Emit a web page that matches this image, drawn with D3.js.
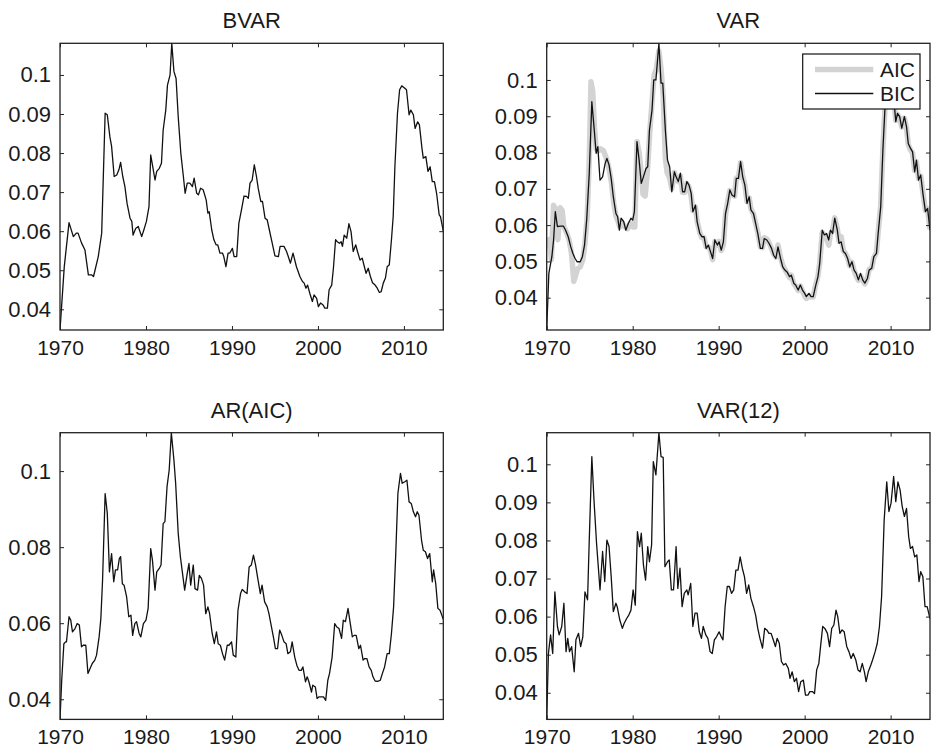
<!DOCTYPE html>
<html>
<head>
<meta charset="utf-8">
<script src="https://cdn.jsdelivr.net/npm/d3@7"></script>
<style>
  body { margin: 0; background: #fff; }
  svg { display: block; }
  text { font-family: "Liberation Sans", Arial, Helvetica, sans-serif; fill: #1a1a1a; }
</style>
</head>
<body>
<div id="chart"></div>
<script>
// panel titles and legend labels
const titles = ['BVAR', 'VAR', 'AR(AIC)', 'VAR(12)']
const legendLabels = ['AIC', 'BIC']

// tick values
const xTicks = [1970, 1980, 1990, 2000, 2010]
const yTicksFine = [0.04, 0.05, 0.06, 0.07, 0.08, 0.09, 0.1]
const yTicksCoarse = [0.04, 0.06, 0.08, 0.1]
const xStart = 1970
const xEnd = 2014.58

// series, [year, value]
const bvar = [[1970.0,0.0347],[1970.5,0.051],[1971.05,0.0622],[1971.55,0.0586],[1971.9,0.0595],[1972.1,0.0595],[1972.5,0.057],[1972.9,0.0552],[1973.3,0.0488],[1973.7,0.0488],[1973.9,0.0484],[1974.45,0.0535],[1974.85,0.0595],[1975.25,0.0902],[1975.5,0.0898],[1975.8,0.0842],[1976.0,0.0817],[1976.3,0.074],[1976.6,0.0744],[1976.85,0.0757],[1977.05,0.0776],[1977.3,0.074],[1977.55,0.0714],[1977.8,0.0671],[1978.15,0.0633],[1978.35,0.0625],[1978.5,0.059],[1978.8,0.0607],[1979.1,0.0612],[1979.5,0.0586],[1979.75,0.0603],[1980.05,0.0625],[1980.35,0.0663],[1980.55,0.0795],[1980.75,0.077],[1981.05,0.0731],[1981.25,0.0753],[1981.55,0.0761],[1981.8,0.0774],[1982.0,0.0859],[1982.3,0.091],[1982.5,0.0974],[1982.8,0.1],[1983.0,0.1081],[1983.25,0.1009],[1983.5,0.0991],[1983.75,0.0893],[1984.05,0.08],[1984.35,0.074],[1984.55,0.0697],[1984.8,0.0723],[1985.1,0.0723],[1985.4,0.0714],[1985.6,0.0736],[1985.9,0.0697],[1986.1,0.0693],[1986.35,0.071],[1986.65,0.0706],[1987.0,0.068],[1987.2,0.0646],[1987.35,0.065],[1987.65,0.0603],[1987.9,0.0578],[1988.15,0.0565],[1988.35,0.0565],[1988.6,0.0544],[1988.9,0.0544],[1989.05,0.0535],[1989.3,0.0509],[1989.55,0.0544],[1989.75,0.0544],[1990.05,0.0556],[1990.25,0.0535],[1990.55,0.0535],[1990.8,0.062],[1991.1,0.0654],[1991.4,0.069],[1991.7,0.0689],[1991.9,0.0684],[1992.1,0.0723],[1992.35,0.0731],[1992.6,0.077],[1992.85,0.074],[1993.05,0.071],[1993.35,0.0676],[1993.55,0.0676],[1993.85,0.0633],[1994.1,0.0629],[1994.35,0.0603],[1994.6,0.0578],[1995.0,0.0537],[1995.4,0.0535],[1995.6,0.0561],[1996.05,0.0561],[1996.35,0.0548],[1996.55,0.0535],[1996.8,0.0518],[1997.1,0.0544],[1997.5,0.0509],[1997.9,0.0484],[1998.2,0.0471],[1998.4,0.0467],[1998.6,0.0454],[1998.8,0.0462],[1999.05,0.0441],[1999.35,0.042],[1999.55,0.0437],[1999.85,0.0428],[2000.05,0.0407],[2000.3,0.0416],[2000.6,0.0411],[2000.8,0.0403],[2001.1,0.0403],[2001.3,0.045],[2001.6,0.0462],[2001.8,0.0505],[2002.05,0.0578],[2002.25,0.0573],[2002.5,0.0569],[2002.7,0.0573],[2002.85,0.0561],[2003.05,0.059],[2003.35,0.0582],[2003.6,0.0619],[2003.85,0.0599],[2004.1,0.0548],[2004.4,0.0565],[2004.6,0.0548],[2004.9,0.0526],[2005.15,0.0531],[2005.4,0.0509],[2005.6,0.0492],[2005.85,0.0505],[2006.1,0.0484],[2006.35,0.0468],[2006.65,0.0462],[2006.9,0.0454],[2007.15,0.0443],[2007.35,0.0445],[2007.6,0.0467],[2007.85,0.048],[2008.05,0.0509],[2008.3,0.0514],[2008.55,0.0578],[2008.75,0.0637],[2008.95,0.0765],[2009.25,0.0902],[2009.5,0.0962],[2009.75,0.0972],[2010.0,0.0968],[2010.3,0.0962],[2010.6,0.0898],[2010.8,0.091],[2011.1,0.0898],[2011.3,0.0863],[2011.6,0.088],[2011.8,0.0872],[2012.1,0.0812],[2012.25,0.0787],[2012.55,0.0791],[2012.8,0.0753],[2013.05,0.0765],[2013.3,0.0727],[2013.55,0.0727],[2013.8,0.0697],[2014.1,0.0642],[2014.25,0.0637],[2014.58,0.06]]

const varBic = [[1970.0,0.0311],[1970.25,0.0467],[1970.6,0.0513],[1970.8,0.0559],[1971.0,0.0637],[1971.25,0.0596],[1971.55,0.0597],[1971.95,0.0597],[1972.2,0.0586],[1972.5,0.0568],[1972.8,0.054],[1973.05,0.0522],[1973.3,0.0508],[1973.55,0.0499],[1973.9,0.0499],[1974.15,0.0513],[1974.4,0.0545],[1974.65,0.0614],[1974.95,0.0743],[1975.25,0.094],[1975.5,0.0871],[1975.75,0.0798],[1975.95,0.0816],[1976.2,0.0724],[1976.5,0.0733],[1976.8,0.077],[1977.0,0.0784],[1977.25,0.0766],[1977.5,0.0729],[1977.75,0.0678],[1978.05,0.0632],[1978.25,0.0623],[1978.45,0.0586],[1978.65,0.0619],[1978.95,0.061],[1979.2,0.0586],[1979.5,0.0605],[1979.8,0.0619],[1980.0,0.0614],[1980.2,0.0637],[1980.5,0.083],[1980.75,0.0779],[1981.0,0.0715],[1981.25,0.0733],[1981.55,0.0756],[1981.75,0.0761],[1981.95,0.0862],[1982.25,0.0917],[1982.45,0.1],[1982.7,0.1],[1982.8,0.1028],[1983.05,0.1101],[1983.3,0.0991],[1983.5,0.0991],[1983.8,0.0862],[1984.05,0.0779],[1984.3,0.0761],[1984.55,0.0692],[1984.85,0.0747],[1985.05,0.0733],[1985.3,0.072],[1985.55,0.0743],[1985.8,0.0692],[1986.05,0.0692],[1986.3,0.072],[1986.55,0.071],[1986.8,0.0688],[1987.0,0.0637],[1987.3,0.0655],[1987.5,0.0609],[1987.8,0.0577],[1988.05,0.0568],[1988.3,0.0568],[1988.55,0.0536],[1988.8,0.0545],[1989.05,0.0527],[1989.3,0.0508],[1989.55,0.0559],[1989.85,0.0545],[1990.05,0.0554],[1990.3,0.0531],[1990.55,0.0554],[1990.8,0.0632],[1991.05,0.066],[1991.3,0.0697],[1991.55,0.0683],[1991.85,0.0678],[1992.05,0.0729],[1992.3,0.0729],[1992.55,0.0775],[1992.8,0.0733],[1993.05,0.071],[1993.3,0.066],[1993.55,0.0678],[1993.75,0.0642],[1994.05,0.0632],[1994.3,0.0605],[1994.55,0.0577],[1994.85,0.0536],[1995.1,0.0536],[1995.3,0.0563],[1995.6,0.0559],[1995.85,0.055],[1996.15,0.0536],[1996.4,0.0517],[1996.65,0.0508],[1996.9,0.054],[1997.2,0.0508],[1997.45,0.0485],[1997.7,0.0476],[1997.95,0.0471],[1998.25,0.0458],[1998.45,0.0462],[1998.75,0.0439],[1998.95,0.0435],[1999.25,0.0421],[1999.5,0.0435],[1999.75,0.0421],[2000.0,0.0412],[2000.2,0.0403],[2000.5,0.0412],[2000.75,0.0403],[2001.0,0.0403],[2001.25,0.043],[2001.55,0.0458],[2001.75,0.0494],[2002.05,0.0586],[2002.3,0.0573],[2002.55,0.0577],[2002.8,0.0559],[2003.0,0.0586],[2003.25,0.0577],[2003.5,0.0619],[2003.8,0.0586],[2004.0,0.055],[2004.25,0.0554],[2004.5,0.0527],[2004.75,0.0522],[2005.0,0.0508],[2005.25,0.0485],[2005.5,0.0499],[2005.75,0.0476],[2006.0,0.0467],[2006.25,0.0449],[2006.5,0.0467],[2006.75,0.0449],[2007.0,0.044],[2007.3,0.0453],[2007.5,0.0476],[2007.8,0.0481],[2008.05,0.0513],[2008.35,0.0522],[2008.55,0.0577],[2008.85,0.0651],[2009.1,0.0807],[2009.35,0.0926],[2009.6,0.0975],[2009.9,0.0985],[2010.1,0.0975],[2010.4,0.094],[2010.6,0.0885],[2010.8,0.0908],[2011.05,0.0899],[2011.3,0.0867],[2011.6,0.0899],[2011.85,0.0871],[2012.05,0.0825],[2012.3,0.0812],[2012.55,0.0802],[2012.8,0.0747],[2013.0,0.0779],[2013.25,0.0724],[2013.5,0.0738],[2013.75,0.0688],[2014.05,0.0637],[2014.3,0.0646],[2014.58,0.0586]]

const varAic = [[1970.0,0.054],[1970.3,0.056],[1970.55,0.0505],[1970.8,0.0655],[1971.05,0.064],[1971.3,0.056],[1971.55,0.0648],[1971.8,0.064],[1972.0,0.0595],[1972.3,0.058],[1972.6,0.056],[1972.9,0.052],[1973.15,0.0445],[1973.35,0.046],[1973.6,0.048],[1973.9,0.0485],[1974.2,0.0505],[1974.45,0.055],[1974.7,0.062],[1974.95,0.078],[1975.15,0.0995],[1975.35,0.097],[1975.55,0.087],[1975.75,0.081],[1976.0,0.0805],[1976.3,0.081],[1976.6,0.0805],[1976.85,0.079],[1977.05,0.0775],[1977.3,0.075],[1977.55,0.0715],[1977.8,0.066],[1978.05,0.0625],[1978.3,0.061],[1978.5,0.0595],[1978.8,0.0605],[1979.1,0.0595],[1979.4,0.059],[1979.7,0.0605],[1980.0,0.0595],[1980.25,0.0595],[1980.5,0.083],[1980.75,0.08],[1981.0,0.0745],[1981.2,0.0685],[1981.45,0.068],[1981.7,0.0745],[1982.0,0.086],[1982.3,0.0955],[1982.5,0.1015],[1982.75,0.103],[1983.05,0.108],[1983.3,0.103],[1983.55,0.0955],[1983.8,0.0785],[1984.0,0.0745],[1984.3,0.073],[1984.55,0.07],[1984.85,0.0745],[1985.1,0.0725],[1985.3,0.072],[1985.55,0.0735],[1985.8,0.069],[1986.05,0.069],[1986.3,0.0715],[1986.55,0.0705],[1986.8,0.068],[1987.0,0.064],[1987.3,0.065],[1987.5,0.061],[1987.8,0.058],[1988.05,0.0565],[1988.3,0.0565],[1988.55,0.054],[1988.8,0.054],[1989.05,0.053],[1989.3,0.0505],[1989.55,0.0555],[1989.85,0.0545],[1990.05,0.0555],[1990.3,0.053],[1990.55,0.0545],[1990.8,0.063],[1991.05,0.0665],[1991.3,0.0695],[1991.55,0.0685],[1991.85,0.068],[1992.05,0.073],[1992.3,0.073],[1992.55,0.0772],[1992.8,0.0735],[1993.05,0.071],[1993.3,0.0665],[1993.55,0.0675],[1993.75,0.0645],[1994.05,0.063],[1994.3,0.0605],[1994.55,0.058],[1994.85,0.054],[1995.1,0.0538],[1995.3,0.0565],[1995.6,0.0562],[1995.85,0.0552],[1996.15,0.0535],[1996.4,0.052],[1996.65,0.0512],[1996.9,0.0545],[1997.2,0.051],[1997.45,0.049],[1997.7,0.0478],[1997.95,0.0468],[1998.25,0.0455],[1998.45,0.0462],[1998.75,0.0438],[1998.95,0.0432],[1999.25,0.042],[1999.5,0.0432],[1999.75,0.0418],[2000.0,0.0405],[2000.2,0.0398],[2000.5,0.0405],[2000.75,0.0402],[2001.0,0.0402],[2001.25,0.0432],[2001.55,0.046],[2001.75,0.0495],[2002.05,0.058],[2002.3,0.0572],[2002.55,0.0565],[2002.8,0.0545],[2003.0,0.0575],[2003.25,0.0585],[2003.5,0.062],[2003.8,0.059],[2004.0,0.0555],[2004.25,0.0568],[2004.5,0.053],[2004.75,0.0522],[2005.0,0.051],[2005.25,0.0488],[2005.5,0.0498],[2005.75,0.0475],[2006.0,0.046],[2006.25,0.0448],[2006.5,0.046],[2006.75,0.0448],[2007.0,0.0438],[2007.3,0.0455],[2007.5,0.0478],[2007.8,0.0482],[2008.05,0.051],[2008.35,0.0525],[2008.55,0.058],[2008.85,0.0655],[2009.1,0.081],[2009.35,0.0926],[2009.6,0.0975],[2009.9,0.0985],[2010.1,0.0975],[2010.4,0.094],[2010.6,0.0888],[2010.8,0.0905],[2011.05,0.0895],[2011.3,0.087],[2011.6,0.0895],[2011.85,0.0868],[2012.05,0.0822],[2012.3,0.0808],[2012.55,0.0798],[2012.8,0.075],[2013.0,0.0775],[2013.25,0.0728],[2013.5,0.0735],[2013.75,0.069],[2014.05,0.064],[2014.3,0.0645],[2014.58,0.0588]]

const arAic = [[1970.0,0.0347],[1970.2,0.045],[1970.45,0.0546],[1970.65,0.0551],[1970.75,0.0551],[1971.05,0.0617],[1971.25,0.0608],[1971.45,0.0577],[1971.75,0.0586],[1972.0,0.0599],[1972.25,0.0595],[1972.5,0.0538],[1972.7,0.0542],[1973.0,0.0542],[1973.25,0.0468],[1973.5,0.0481],[1973.75,0.0494],[1974.05,0.0503],[1974.25,0.0516],[1974.55,0.0564],[1974.75,0.0612],[1974.95,0.0713],[1975.25,0.0941],[1975.5,0.0889],[1975.75,0.0735],[1976.0,0.0783],[1976.25,0.0709],[1976.45,0.074],[1976.7,0.074],[1976.9,0.077],[1977.05,0.0775],[1977.25,0.0704],[1977.45,0.07],[1977.75,0.0669],[1978.0,0.0617],[1978.25,0.0621],[1978.45,0.0568],[1978.7,0.0599],[1978.9,0.0604],[1979.2,0.0573],[1979.4,0.0564],[1979.7,0.0599],[1980.0,0.0608],[1980.25,0.0639],[1980.55,0.0796],[1980.75,0.0766],[1981.05,0.0687],[1981.25,0.0735],[1981.55,0.0744],[1981.75,0.0753],[1982.0,0.0862],[1982.2,0.0867],[1982.45,0.0959],[1982.7,0.1003],[1982.95,0.1101],[1983.25,0.1029],[1983.45,0.0968],[1983.75,0.0836],[1984.0,0.0775],[1984.25,0.0731],[1984.5,0.0687],[1984.8,0.0731],[1985.0,0.0757],[1985.2,0.07],[1985.5,0.0753],[1985.7,0.0691],[1986.0,0.0687],[1986.2,0.0726],[1986.45,0.0718],[1986.7,0.07],[1986.95,0.0625],[1987.2,0.0643],[1987.4,0.0625],[1987.7,0.0573],[1987.95,0.0546],[1988.2,0.0577],[1988.4,0.0546],[1988.65,0.0542],[1988.9,0.052],[1989.15,0.0503],[1989.45,0.0542],[1989.65,0.0542],[1989.95,0.0551],[1990.15,0.0516],[1990.45,0.0511],[1990.7,0.0634],[1991.0,0.0678],[1991.2,0.0689],[1991.5,0.0682],[1991.75,0.0678],[1992.0,0.0748],[1992.25,0.0753],[1992.5,0.0779],[1992.75,0.0753],[1993.0,0.0718],[1993.3,0.0678],[1993.5,0.07],[1993.8,0.0656],[1994.1,0.0643],[1994.3,0.0625],[1994.6,0.059],[1994.85,0.056],[1995.05,0.0533],[1995.3,0.0533],[1995.55,0.0582],[1995.8,0.0568],[1996.05,0.0551],[1996.3,0.0546],[1996.5,0.052],[1996.8,0.0525],[1997.0,0.0551],[1997.3,0.0511],[1997.55,0.0489],[1997.8,0.0476],[1998.05,0.0476],[1998.25,0.0485],[1998.55,0.0446],[1998.75,0.0459],[1998.95,0.0446],[1999.25,0.0419],[1999.4,0.0437],[1999.7,0.0432],[1999.9,0.0402],[2000.1,0.0406],[2000.4,0.0406],[2000.65,0.0406],[2000.9,0.0397],[2001.15,0.045],[2001.35,0.0468],[2001.65,0.0511],[2001.95,0.0599],[2002.2,0.059],[2002.45,0.0586],[2002.75,0.056],[2002.95,0.0608],[2003.2,0.0604],[2003.5,0.0639],[2003.7,0.0608],[2004.0,0.0564],[2004.2,0.0568],[2004.45,0.0568],[2004.75,0.0533],[2004.95,0.0542],[2005.25,0.0503],[2005.45,0.0507],[2005.7,0.0507],[2005.95,0.0485],[2006.2,0.0476],[2006.4,0.0459],[2006.65,0.0448],[2006.95,0.0447],[2007.25,0.045],[2007.5,0.0468],[2007.75,0.0485],[2008.05,0.052],[2008.3,0.052],[2008.55,0.0573],[2008.8,0.0643],[2009.05,0.0783],[2009.3,0.0941],[2009.6,0.0994],[2009.8,0.0968],[2010.1,0.0972],[2010.35,0.0976],[2010.6,0.0919],[2010.85,0.0915],[2011.1,0.0893],[2011.35,0.088],[2011.55,0.0893],[2011.75,0.0884],[2012.05,0.0818],[2012.25,0.0792],[2012.5,0.0788],[2012.75,0.077],[2013.0,0.0783],[2013.3,0.0709],[2013.45,0.074],[2013.7,0.0704],[2013.95,0.0639],[2014.2,0.0634],[2014.58,0.061]]

const var12 = [[1970.0,0.033],[1970.2,0.0503],[1970.45,0.0552],[1970.7,0.0503],[1970.95,0.0665],[1971.25,0.0574],[1971.45,0.0552],[1971.75,0.0574],[1972.0,0.0635],[1972.25,0.0508],[1972.45,0.0543],[1972.65,0.0508],[1972.9,0.0521],[1973.2,0.0455],[1973.4,0.0539],[1973.7,0.0556],[1973.95,0.0521],[1974.2,0.0547],[1974.45,0.0665],[1974.75,0.0644],[1974.95,0.0801],[1975.25,0.102],[1975.5,0.0906],[1975.8,0.0792],[1976.2,0.067],[1976.5,0.0771],[1976.75,0.0692],[1977.0,0.0801],[1977.25,0.0784],[1977.5,0.0705],[1977.75,0.0613],[1978.05,0.0635],[1978.2,0.0626],[1978.5,0.0591],[1978.8,0.0569],[1979.0,0.0582],[1979.3,0.0595],[1979.55,0.0604],[1979.8,0.0617],[1980.05,0.067],[1980.3,0.063],[1980.55,0.0823],[1980.8,0.0784],[1981.0,0.0819],[1981.25,0.0736],[1981.5,0.0696],[1981.75,0.0784],[1981.95,0.0744],[1982.2,0.0788],[1982.4,0.1007],[1982.7,0.0972],[1983.05,0.1083],[1983.3,0.102],[1983.55,0.1018],[1983.75,0.0731],[1984.05,0.0744],[1984.25,0.0749],[1984.5,0.067],[1984.75,0.067],[1985.05,0.0784],[1985.25,0.0674],[1985.5,0.0727],[1985.75,0.0626],[1986.0,0.0661],[1986.3,0.067],[1986.45,0.0657],[1986.75,0.0687],[1987.0,0.0574],[1987.25,0.0609],[1987.5,0.0609],[1987.75,0.056],[1988.0,0.0543],[1988.2,0.0574],[1988.5,0.0552],[1988.75,0.0543],[1989.0,0.0508],[1989.25,0.0503],[1989.5,0.0539],[1989.75,0.0547],[1990.05,0.056],[1990.3,0.0547],[1990.5,0.0539],[1990.75,0.0626],[1991.0,0.0679],[1991.25,0.0679],[1991.5,0.0661],[1991.75,0.067],[1992.0,0.0722],[1992.25,0.0722],[1992.5,0.0757],[1992.75,0.0727],[1993.0,0.0705],[1993.25,0.0661],[1993.5,0.0683],[1993.75,0.0648],[1994.05,0.0626],[1994.3,0.0604],[1994.55,0.0569],[1994.8,0.0543],[1995.1,0.0517],[1995.35,0.0569],[1995.6,0.0565],[1995.85,0.0556],[1996.1,0.0556],[1996.35,0.0539],[1996.6,0.0521],[1996.8,0.0543],[1997.05,0.053],[1997.3,0.0482],[1997.55,0.0473],[1997.8,0.0477],[1998.1,0.0464],[1998.3,0.0438],[1998.55,0.0455],[1998.8,0.0429],[1999.05,0.0438],[1999.3,0.0403],[1999.55,0.0429],[1999.85,0.0433],[2000.1,0.0394],[2000.4,0.0394],[2000.6,0.0403],[2000.9,0.0403],[2001.15,0.0398],[2001.4,0.046],[2001.65,0.0477],[2001.85,0.0521],[2002.1,0.0574],[2002.35,0.0569],[2002.65,0.0556],[2002.9,0.0521],[2003.15,0.0569],[2003.4,0.0578],[2003.65,0.0617],[2003.85,0.06],[2004.1,0.0556],[2004.35,0.0565],[2004.6,0.056],[2004.9,0.0521],[2005.15,0.0508],[2005.4,0.049],[2005.65,0.0503],[2005.95,0.0486],[2006.2,0.046],[2006.45,0.0455],[2006.7,0.0477],[2006.95,0.0455],[2007.15,0.0429],[2007.4,0.0455],[2007.7,0.0473],[2007.9,0.0486],[2008.2,0.0508],[2008.45,0.053],[2008.7,0.0574],[2008.95,0.0652],[2009.25,0.0854],[2009.55,0.0954],[2009.8,0.0876],[2010.05,0.0898],[2010.35,0.0968],[2010.6,0.0902],[2010.85,0.0954],[2011.1,0.0933],[2011.35,0.0889],[2011.6,0.0863],[2011.85,0.0884],[2012.1,0.081],[2012.3,0.0779],[2012.55,0.0784],[2012.8,0.0757],[2013.05,0.0762],[2013.3,0.0692],[2013.5,0.0718],[2013.75,0.0705],[2014.0,0.0626],[2014.25,0.0626],[2014.58,0.0595]]

const width = 937
const height = 751
const fontX = 21
const fontY = 22

// layout of the 2x2 grid
const colLeft = [60, 546.7]
const rowTop = [43.3, 432.7]
const plotW = 383.3
const plotH = 286.7

const thin = { color: '#111', width: 1.3 }
const thick = { color: '#d3d3d3', width: 5.5 }

const panels = [
  { title: titles[0], col: 0, row: 0, yTicks: yTicksFine, series: [{ data: bvar, style: thin }] },
  { title: titles[1], col: 1, row: 0, yTicks: yTicksFine, legend: true,
    series: [{ data: varAic, style: thick }, { data: varBic, style: thin }] },
  { title: titles[2], col: 0, row: 1, yTicks: yTicksCoarse, series: [{ data: arAic, style: thin }] },
  { title: titles[3], col: 1, row: 1, yTicks: yTicksFine, series: [{ data: var12, style: thin }] }
]

const fmt = d => String(+d.toFixed(2))

const svg = d3.select('#chart').append('svg')
  .attr('width', width)
  .attr('height', height)

svg.append('rect').attr('width', width).attr('height', height).attr('fill', '#fff')

panels.forEach(function(p, i) {
  const left = colLeft[p.col]
  const top = rowTop[p.row]

  const all = p.series.flatMap(s => s.data)
  const x = d3.scaleLinear().domain([xStart, xEnd]).range([0, plotW])
  const y = d3.scaleLinear().domain(d3.extent(all, d => d[1])).range([plotH, 0])

  const g = svg.append('g').attr('transform', 'translate(' + left + ',' + top + ')')

  g.append('clipPath').attr('id', 'clip' + i)
    .append('rect').attr('x', 0).attr('y', -1).attr('width', plotW).attr('height', plotH + 2)

  const line = d3.line().x(d => x(d[0])).y(d => y(d[1]))

  const plot = g.append('g').attr('clip-path', 'url(#clip' + i + ')')
  p.series.forEach(function(s) {
    plot.append('path')
      .datum(s.data)
      .attr('fill', 'none')
      .attr('stroke', s.style.color)
      .attr('stroke-width', s.style.width)
      .attr('stroke-linejoin', 'round')
      .attr('d', line)
  })

  // axes, ticks pointing inward like matlab
  const axes = [
    { gen: d3.axisLeft(y).tickValues(p.yTicks).tickFormat(fmt), t: [0, 0], fs: fontY },
    { gen: d3.axisRight(y).tickValues(p.yTicks).tickFormat(''), t: [plotW, 0], fs: fontY },
    { gen: d3.axisBottom(x).tickValues(xTicks).tickFormat(d3.format('d')), t: [0, plotH], fs: fontX },
    { gen: d3.axisTop(x).tickValues(xTicks).tickFormat(''), t: [0, 0], fs: fontX }
  ]
  axes.forEach(function(a, k) {
    const ag = g.append('g')
      .attr('transform', 'translate(' + a.t[0] + ',' + a.t[1] + ')')
      .call(a.gen.tickSizeInner(-4).tickSizeOuter(0).tickPadding(k === 2 ? 10 : 9))
    ag.select('.domain').remove()
    ag.selectAll('line').attr('stroke', '#222')
    ag.selectAll('text')
      .attr('font-size', a.fs)
      .attr('font-family', '"Liberation Sans", Arial, sans-serif')
      .attr('fill', '#1a1a1a')
  })

  g.append('rect')
    .attr('width', plotW)
    .attr('height', plotH)
    .attr('fill', 'none')
    .attr('stroke', '#222')
    .attr('stroke-width', 1.3)

  g.append('text')
    .attr('x', plotW / 2)
    .attr('y', -15)
    .attr('text-anchor', 'middle')
    .attr('font-size', fontY)
    .text(p.title)

  if (p.legend) {
    const lg = g.append('g').attr('transform', 'translate(' + (802.7 - left) + ',' + (54 - top) + ')')
    lg.append('rect')
      .attr('width', 117.3)
      .attr('height', 55)
      .attr('fill', '#fff')
      .attr('stroke', '#111')
      .attr('stroke-width', 1.2)
    p.series.forEach(function(s, j) {
      const yy = 15.5 + j * 24
      lg.append('line')
        .attr('x1', 12.3).attr('x2', 70.6)
        .attr('y1', yy).attr('y2', yy)
        .attr('stroke', s.style.color)
        .attr('stroke-width', s.style.width)
      lg.append('text')
        .attr('x', 77.3)
        .attr('y', yy)
        .attr('dy', '0.36em')
        .attr('font-size', fontX)
        .text(legendLabels[j])
    })
  }
})
</script>
</body>
</html>
